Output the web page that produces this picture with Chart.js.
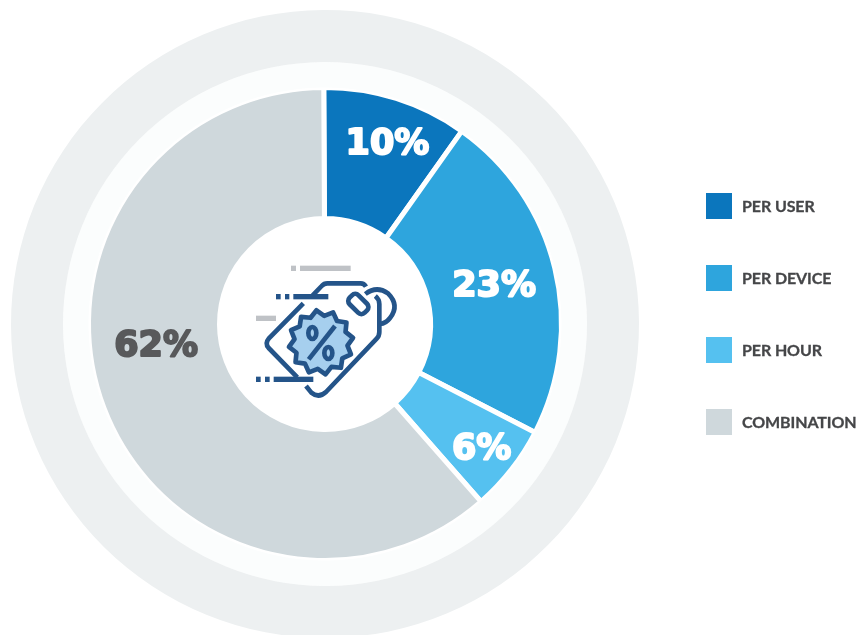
<!DOCTYPE html>
<html>
<head>
<meta charset="utf-8">
<title>Pricing models</title>
<script src="https://cdn.jsdelivr.net/npm/chart.js@4"></script>
<style>
  html, body { margin: 0; padding: 0; background: #fff; overflow: hidden; }
  #wrap { position: relative; width: 859px; height: 635px; overflow: hidden; }
  canvas { position: absolute; left: 0; top: 0; }
  #icon { position: absolute; left: 220px; top: 230px; width: 210px; height: 210px; }
  .key { position: absolute; left: 706px; display: flex; align-items: center; height: 26px;
         font: 700 16px Lato, sans-serif; color: #454648; letter-spacing: -0.1px; white-space: nowrap;
         -webkit-text-stroke: 0.3px #454648; }
  .key i { display: block; width: 26px; height: 26px; margin-right: 10px; }
  .key span { position: relative; top: -1px; }
</style>
</head>
<body>
<div id="wrap">
  <canvas id="chart" width="859" height="648"></canvas>
  <svg id="icon" viewBox="0 0 630 630" fill="none" stroke="#245489" stroke-width="14" stroke-linecap="butt" stroke-linejoin="round">
    <g fill="#bfc2c6" stroke="none">
      <rect x="213" y="107" width="15" height="16"/>
      <rect x="240" y="107" width="152" height="16"/>
      <rect x="108" y="257" width="60" height="16"/>
    </g>
    <g fill="#245489" stroke="none">
      <rect x="168" y="192" width="14" height="16"/>
      <rect x="195" y="192" width="13" height="16"/>
      <rect x="220" y="192" width="105" height="16"/>
      <rect x="108" y="440" width="14" height="16"/>
      <rect x="135" y="440" width="14" height="16"/>
      <rect x="161" y="440" width="119" height="16"/>
    </g>
    <path d="M250 220 L146 326 Q134 340 146 354 L232 442"/>
    <path d="M278 196 L305 168 Q312 160 322 160 L422 160 Q432 160 438 170"/>
    <path d="M466 198 Q478 208 478 222 L478 306 Q478 318 470 326 L318 486 Q296 506 274 488 L258 468"/>
    <path d="M436 192 Q470 166 504 190 Q540 226 510 264 Q498 280 480 282"/>
    <rect x="383" y="203" width="64" height="38" rx="14" transform="rotate(45 415 222)"/>
    <path id="badge" fill="#a6cfee"/>
    <ellipse cx="277" cy="309" rx="12" ry="18"/>
    <ellipse cx="325" cy="369" rx="12" ry="18"/>
    <path d="M345 288 L266 388"/>
  </svg>
</div>
<script>
const categories = ["PER USER", "PER DEVICE", "PER HOUR", "COMBINATION"];
const shares = [10, 23, 6, 62];
const sliceColors = ["#0b76bd", "#2ea5dd", "#55c1f0", "#cfd8dc"];
const labelColors = ["#ffffff", "#ffffff", "#ffffff", "#58595b"];
// nudges from each slice's centre point to where its label sits
const labelNudge = [[11, -16], [3, 3], [22, 21], [-9, -38]];

// star badge on the price tag
let badge = "";
for (let i = 0; i < 24; i++) {
  const r = i % 2 ? 80 : 97;
  const a = (i * 15 - 8) * Math.PI / 180;
  badge += (i ? "L" : "M") + (303 + r * Math.sin(a)).toFixed(1) + " " + (337 - r * Math.cos(a)).toFixed(1);
}
document.getElementById("badge").setAttribute("d", badge + "Z");

// legend
categories.forEach((name, i) => {
  const row = document.createElement("div");
  row.className = "key";
  row.style.top = (193 + i * 72) + "px";
  row.innerHTML = `<i style="background:${sliceColors[i]}"></i><span>${name}</span>`;
  document.getElementById("wrap").appendChild(row);
});

// percentages printed on the slices
const sliceLabels = {
  id: "sliceLabels",
  afterDatasetsDraw(chart) {
    const ctx = chart.ctx;
    const arcs = chart.getDatasetMeta(2).data;
    ctx.save();
    ctx.font = "bold 35px 'DejaVu Sans'";
    ctx.textAlign = "center";
    ctx.textBaseline = "middle";
    ctx.lineJoin = "round";
    ctx.lineWidth = 2;
    arcs.forEach((arc, i) => {
      const p = arc.getCenterPoint();
      const x = p.x + labelNudge[i][0], y = p.y + labelNudge[i][1];
      ctx.fillStyle = labelColors[i];
      ctx.strokeStyle = labelColors[i];
      ctx.strokeText(shares[i] + "%", x, y);
      ctx.fillText(shares[i] + "%", x, y);
    });
    ctx.restore();
  }
};

new Chart(document.getElementById("chart"), {
  type: "doughnut",
  data: {
    labels: categories,
    datasets: [
      { data: [1], backgroundColor: "#edf0f1", borderWidth: 0, weight: 52 },
      { data: [1], backgroundColor: "#fbfdfd", borderWidth: 0, weight: 25.5 },
      { data: shares, backgroundColor: sliceColors, borderColor: "#ffffff", borderWidth: 5, weight: 131 }
    ]
  },
  options: {
    responsive: false,
    animation: false,
    rotation: -0.3,
    cutout: 105.5,
    layout: { padding: { left: 11, right: 220, top: 10, bottom: 10 } },
    plugins: { legend: { display: false }, tooltip: { enabled: false } }
  },
  plugins: [sliceLabels]
});
</script>
</body>
</html>
